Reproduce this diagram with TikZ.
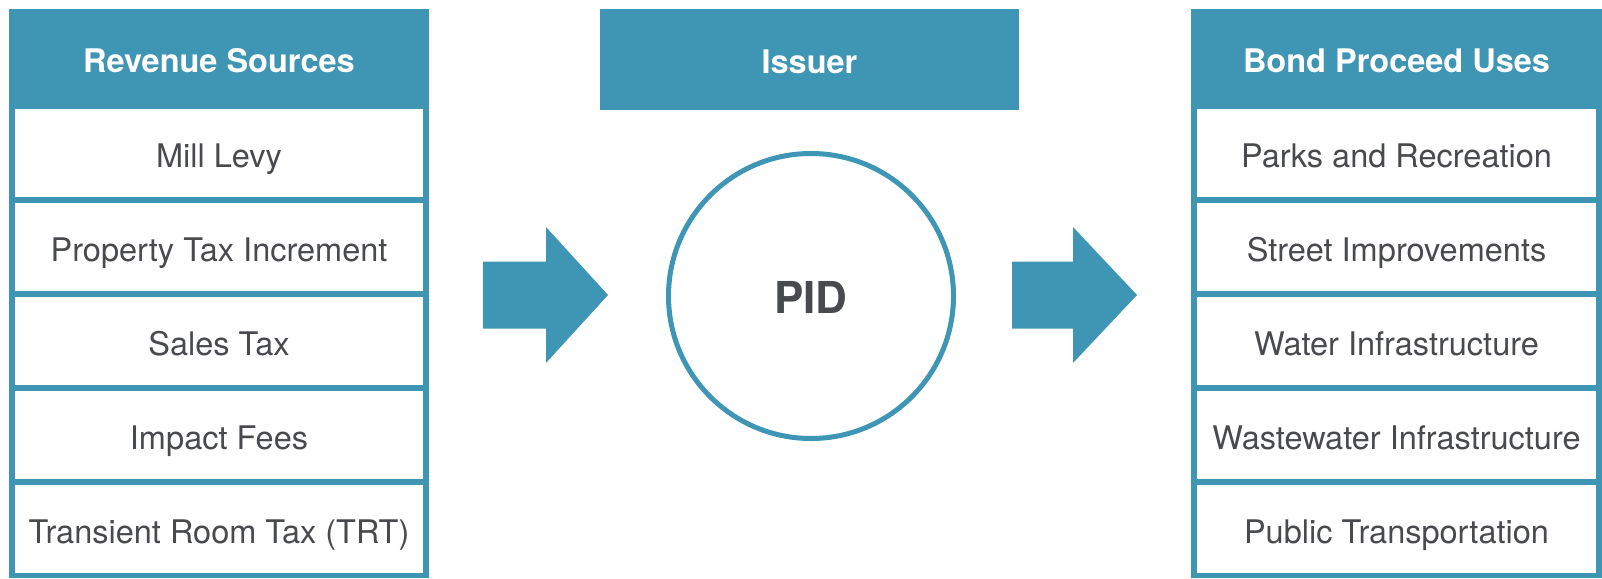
\documentclass[tikz,border=0pt]{standalone}
\usepackage{fontspec}
\setmainfont{TeX Gyre Heros}
\begin{document}
\begin{tikzpicture}[x=1pt,y=-1pt,
    cell/.style={fill=white,text=kText,minimum height=88pt,inner sep=0pt,
                 text height=30pt,text depth=2pt,
                 font=\fontsize{32.5}{38}\selectfont},
    head/.style={text=white,inner sep=0pt,text height=30pt,text depth=2pt,
                 font=\fontsize{32.5}{38}\selectfont\bfseries}]
  \definecolor{kTeal}{RGB}{62,149,180}
  \definecolor{kText}{RGB}{72,74,78}

  \useasboundingbox (0,0) rectangle (1602,578);

  % frames
  \fill[kTeal] (9,9) rectangle (429,578);
  \fill[kTeal] (1191,9) rectangle (1602,578);

  % headers
  \node[head] (srcHead) at (219,59) {Revenue Sources};
  \node[head,fill=kTeal,minimum width=419pt,minimum height=101pt] (issuer) at (809.5,59.5) {Issuer};
  \node[head] (useHead) at (1396.5,59) {Bond Proceed Uses};

  % cells - sources
  \foreach \n/\y/\txt in {
                          1/153/Mill Levy,
                          2/247/Property Tax Increment,
                          3/341/Sales Tax,
                          4/435/Impact Fees,
                          5/529/Transient Room Tax (TRT)
                    }
  {
    \node[cell,minimum width=408pt] (src\n) at (219,\y) {\txt};
  }

  % cells - uses
  \foreach \n/\y/\txt in {
                          1/153/Parks and Recreation,
                          2/247/Street Improvements,
                          3/341/Water Infrastructure,
                          4/435/Wastewater Infrastructure,
                          5/529/Public Transportation
                    }
  {
    \node[cell,minimum width=399pt] (use\n) at (1396.5,\y) {\txt};
  }

  % arrows
  \foreach \t/\b/\p in { 483/546/608, 1012/1073/1137 }
  {
    \fill[kTeal] (\t,261.5) -- (\b,261.5) -- (\b,227) -- (\p,295)
                 -- (\b,363) -- (\b,328.5) -- (\t,328.5) -- cycle;
  }

  % district
  \node[circle,draw=kTeal,line width=5pt,minimum size=285pt,text=kText,
        text height=36pt,text depth=2pt,
        font=\fontsize{44}{50}\selectfont\bfseries] (pid) at (811,296) {PID};

\end{tikzpicture}
\end{document}
